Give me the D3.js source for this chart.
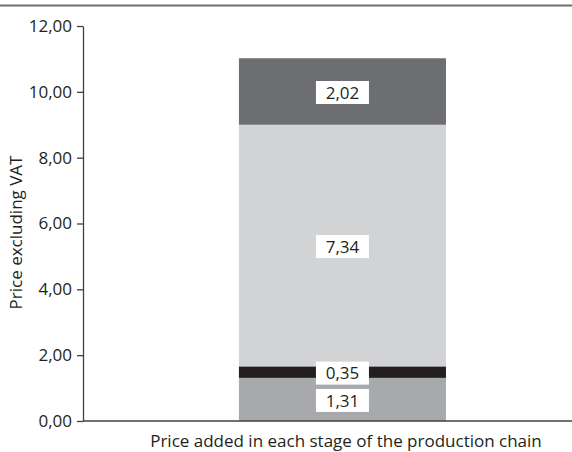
<!DOCTYPE html>
<html>
<head>
<meta charset="utf-8">
<script src="https://cdn.jsdelivr.net/npm/d3@7"></script>
<style>
  html, body { margin: 0; padding: 0; background: #fff; }
  svg { display: block; font-family: "Open Sans", sans-serif; }
</style>
</head>
<body>
<svg id="chart" width="572" height="452"></svg>
<script>
// Price components (excluding VAT), stacked bottom to top
const stages = ["Stage 1", "Stage 2", "Stage 3", "Stage 4"];
const values = [1.31, 0.35, 7.34, 2.02];
const colors = ["#a7a9ac", "#231f20", "#d1d3d4", "#6d6e71"];
const yTicks = [0, 2, 4, 6, 8, 10, 12];
const category = ["Price added in each stage of the production chain"];

const svg = d3.select("#chart");
const W = 572, H = 452;
const margin = { left: 83, top: 26, bottom: 31 };
const FS = 17;

const y = d3.scaleLinear().domain([0, 12]).range([H - margin.bottom, margin.top]);
const x = d3.scaleBand().domain(category).range([margin.left, W])
  .paddingInner(0).paddingOuter(0.681).align(0.553);

const fmt = v => d3.format(".2f")(v).replace(".", ",");

// top rule
svg.append("line")
  .attr("x1", 0).attr("x2", W).attr("y1", 5.5).attr("y2", 5.5)
  .attr("stroke", "#6d6e71").attr("stroke-width", 2);

// stacked segments
let acc = 0;
const segs = values.map((v, i) => {
  const s = { key: stages[i], v, y0: acc, y1: acc + v, color: colors[i] };
  acc += v;
  return s;
});

const bx = x(category[0]), bw = x.bandwidth();
const g = svg.append("g");
g.selectAll("rect.seg").data(segs).join("rect")
  .attr("class", "seg")
  .attr("x", bx).attr("width", bw)
  .attr("y", d => y(d.y1))
  .attr("height", d => y(d.y0) - y(d.y1))
  .attr("fill", d => d.color);

// value labels in white boxes, centred on each segment
const lab = g.selectAll("g.lab").data(segs).join("g")
  .attr("class", "lab")
  .attr("transform", d => `translate(${bx + bw / 2},${(y(d.y0) + y(d.y1)) / 2 + 1})`);
lab.append("rect")
  .attr("x", -26.5).attr("y", -11.5).attr("width", 53).attr("height", 23)
  .attr("fill", "#fff");
lab.append("text")
  .attr("text-anchor", "middle").attr("dy", "0.36em")
  .attr("font-size", FS).attr("fill", "#231f20")
  .text(d => fmt(d.v));

// y axis
const yAxis = d3.axisLeft(y).tickValues(yTicks).tickFormat(fmt).tickSize(6).tickSizeOuter(0).tickPadding(5);
const ya = svg.append("g").attr("transform", `translate(${margin.left},0)`).call(yAxis);
ya.select(".domain").attr("stroke", "#414042").attr("stroke-width", 1.3);
ya.selectAll(".tick line").attr("stroke", "#414042").attr("stroke-width", 1.3);
ya.selectAll(".tick text").attr("font-size", FS).attr("fill", "#231f20").attr("font-family", "\"Open Sans\", sans-serif");

// x baseline
svg.append("line")
  .attr("x1", margin.left).attr("x2", W)
  .attr("y1", y(0)).attr("y2", y(0))
  .attr("stroke", "#414042").attr("stroke-width", 1.3);

// axis titles
svg.append("text")
  .attr("transform", `translate(22,${(y(0) + y(12)) / 2 + 9}) rotate(-90)`)
  .attr("text-anchor", "middle").attr("font-size", FS).attr("fill", "#231f20")
  .text("Price excluding VAT");

svg.append("text")
  .attr("x", 346).attr("y", 447)
  .attr("text-anchor", "middle").attr("font-size", FS).attr("fill", "#231f20")
  .text(category[0]);
</script>
</body>
</html>
